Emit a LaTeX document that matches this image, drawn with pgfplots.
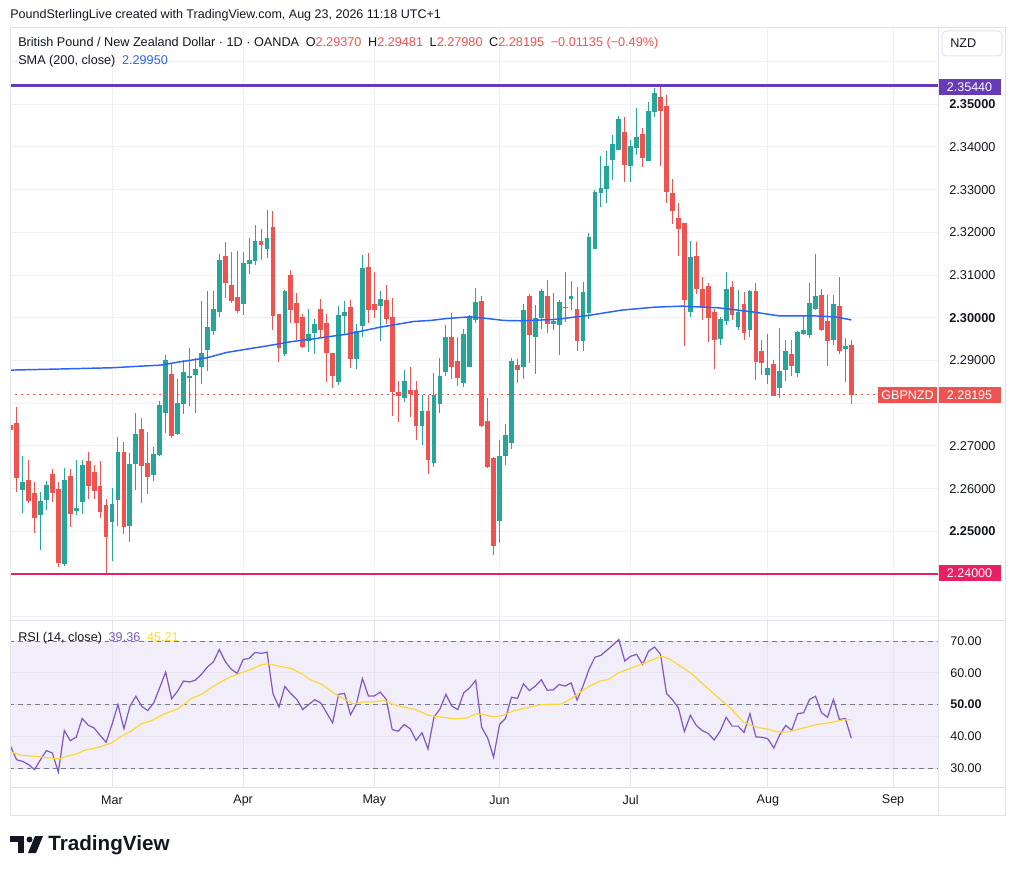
\documentclass[border=0pt]{standalone}
\usepackage{fontspec}
\setmainfont{Liberation Sans}
\usepackage{pgfplots}
\pgfplotsset{compat=1.18}
\usepackage{pgfplotstable}
\definecolor{upc}{HTML}{26A69A}
\definecolor{dnc}{HTML}{EF5350}
\definecolor{smac}{HTML}{2962FF}
\definecolor{rsic}{HTML}{7E57C2}
\definecolor{rsima}{HTML}{FDD835}
\definecolor{gridc}{HTML}{F0F1F5}
\definecolor{rsigrid}{HTML}{E6E2EF}
\definecolor{framec}{HTML}{E0E3EB}
\definecolor{txt}{HTML}{131722}
\definecolor{purp}{HTML}{673AB7}
\definecolor{pinkc}{HTML}{E91E63}
\definecolor{rsibg}{HTML}{F2EEF9}
\definecolor{lvl}{HTML}{787B86}
\newcommand{\fz}[1]{\fontsize{#1pt}{#1pt}\selectfont}

% rising candles (close >= open)
\pgfplotstableread{
x O H L C
-15 2.25977 2.26766 2.25438 2.26156
-12 2.25391 2.25922 2.24570 2.25703
-11 2.25742 2.26180 2.25508 2.26086
-8 2.24242 2.26484 2.24195 2.26203
-6 2.25484 2.26672 2.25391 2.25555
-5 2.25695 2.26672 2.25414 2.26555
0 2.25227 2.26016 2.24313 2.25641
1 2.25742 2.27211 2.25133 2.26859
3 2.25133 2.26836 2.24758 2.26578
4 2.26586 2.27773 2.25977 2.27281
7 2.26328 2.26977 2.26188 2.26813
8 2.26789 2.28063 2.26770 2.27961
9 2.27773 2.29125 2.27313 2.29000
11 2.27281 2.28578 2.27250 2.28000
12 2.27984 2.29000 2.27758 2.28727
13 2.28594 2.29289 2.27938 2.28633
14 2.28664 2.29055 2.27773 2.28797
15 2.28852 2.30398 2.28453 2.29172
16 2.29250 2.30633 2.28758 2.29781
17 2.29695 2.30633 2.29602 2.30203
18 2.30141 2.31500 2.30008 2.31352
22 2.30328 2.31539 2.30070 2.31281
23 2.31258 2.31867 2.31023 2.31352
24 2.31328 2.32172 2.31234 2.31797
26 2.31609 2.32523 2.31398 2.31867
29 2.29156 2.30648 2.29109 2.30625
33 2.29461 2.30203 2.29203 2.29617
34 2.29641 2.29969 2.29156 2.29852
38 2.28500 2.30273 2.28430 2.30063
39 2.30047 2.30391 2.29594 2.30133
41 2.29039 2.29852 2.28805 2.29688
42 2.29813 2.31469 2.29555 2.31164
45 2.30281 2.30625 2.29461 2.30438
49 2.28125 2.28773 2.28031 2.28516
52 2.27469 2.28188 2.27016 2.27813
54 2.26602 2.28703 2.26508 2.28188
55 2.27984 2.29055 2.27773 2.28633
56 2.28734 2.29828 2.28641 2.29547
59 2.28477 2.29734 2.28383 2.29617
60 2.28852 2.30063 2.28840 2.30016
61 2.29953 2.30695 2.29883 2.30367
65 2.25242 2.27133 2.24727 2.26758
66 2.26766 2.27508 2.26555 2.27250
67 2.27070 2.29055 2.26930 2.28984
69 2.28852 2.30320 2.28570 2.30180
71 2.29555 2.30297 2.28688 2.29992
72 2.30000 2.30672 2.29734 2.30625
74 2.29859 2.30578 2.29719 2.29930
75 2.29836 2.30414 2.29125 2.30367
76 2.30227 2.31070 2.29891 2.30250
77 2.30445 2.30859 2.30172 2.30508
79 2.29461 2.30836 2.29227 2.30602
80 2.30117 2.31977 2.29977 2.31883
81 2.31617 2.32992 2.31600 2.32945
82 2.32930 2.33781 2.32602 2.33039
83 2.33023 2.33906 2.32695 2.33555
84 2.33703 2.34281 2.33234 2.34070
85 2.33930 2.34727 2.33920 2.34656
87 2.33563 2.34164 2.33188 2.34023
88 2.33977 2.34914 2.33820 2.34234
90 2.33680 2.35055 2.33670 2.34844
91 2.34820 2.35383 2.34711 2.35266
97 2.30141 2.31805 2.30023 2.31422
102 2.29508 2.30023 2.29367 2.29977
103 2.29930 2.31070 2.29836 2.30672
105 2.29789 2.30648 2.29719 2.30141
107 2.29719 2.30648 2.29555 2.30625
110 2.28664 2.29625 2.28453 2.28828
112 2.28359 2.29766 2.28125 2.28758
113 2.28781 2.29484 2.28523 2.29227
115 2.28711 2.29695 2.28617 2.29672
116 2.29625 2.30047 2.29600 2.29719
117 2.29602 2.30813 2.29531 2.30352
118 2.30211 2.31492 2.30188 2.30516
121 2.29484 2.30531 2.29367 2.30320
123 2.29273 2.29531 2.28500 2.29344
}\upc

% falling candles (close < open)
\pgfplotstableread{
x O H L C
-17 2.27492 2.28031 2.26000 2.27383
-16 2.27539 2.27922 2.25930 2.26258
-14 2.26203 2.26672 2.25672 2.25719
-13 2.25898 2.26156 2.24969 2.25320
-10 2.26344 2.26461 2.25695 2.25906
-9 2.25992 2.26156 2.24172 2.24266
-7 2.26297 2.26461 2.25109 2.25414
-4 2.26648 2.26859 2.25766 2.26070
-3 2.26391 2.26555 2.25766 2.25953
-2 2.26063 2.26648 2.25320 2.25461
-1 2.25617 2.25750 2.24016 2.24875
2 2.26859 2.27094 2.24945 2.25109
5 2.27398 2.27656 2.25672 2.26539
6 2.26602 2.27328 2.25883 2.26281
10 2.28695 2.28953 2.27188 2.27234
19 2.31445 2.31773 2.30461 2.30820
20 2.30766 2.31539 2.30350 2.30398
21 2.30484 2.31563 2.30117 2.30164
25 2.31797 2.32078 2.31352 2.31703
27 2.32125 2.32500 2.29719 2.30047
28 2.30086 2.30090 2.28969 2.29297
30 2.31000 2.31117 2.29867 2.30180
31 2.30344 2.30586 2.29477 2.29883
32 2.30016 2.30086 2.29300 2.29320
35 2.30203 2.30438 2.29531 2.29719
36 2.29875 2.30086 2.28500 2.29180
37 2.29172 2.29180 2.28359 2.28641
40 2.30250 2.30414 2.28828 2.29039
43 2.31188 2.31516 2.29883 2.30188
44 2.30320 2.31070 2.30000 2.30188
46 2.30414 2.30766 2.29859 2.29977
47 2.30016 2.30461 2.27703 2.28266
48 2.28258 2.28516 2.27563 2.28172
50 2.28305 2.28852 2.27680 2.28219
51 2.28305 2.28516 2.27133 2.27469
53 2.27813 2.28188 2.26352 2.26664
57 2.29547 2.30109 2.28570 2.28852
58 2.28984 2.29547 2.28406 2.28594
62 2.30391 2.30508 2.27450 2.27469
63 2.27594 2.28125 2.26490 2.26508
64 2.26719 2.26742 2.24438 2.24656
68 2.28891 2.29031 2.28477 2.28781
70 2.30508 2.30555 2.28945 2.29594
73 2.30508 2.30880 2.29648 2.29859
78 2.30203 2.30719 2.29227 2.29461
86 2.34352 2.34703 2.33188 2.33586
89 2.34305 2.34445 2.33539 2.33750
92 2.35172 2.35440 2.33555 2.34844
93 2.34961 2.35219 2.32695 2.32953
94 2.32922 2.33250 2.32203 2.32508
95 2.32336 2.32688 2.31453 2.32086
96 2.32219 2.32230 2.29344 2.30422
98 2.31445 2.31773 2.30555 2.30672
99 2.30672 2.30953 2.29953 2.30234
100 2.30742 2.30813 2.29438 2.30000
101 2.30141 2.30211 2.28805 2.29484
104 2.30719 2.30859 2.29953 2.30070
106 2.30320 2.30602 2.29484 2.29648
108 2.30625 2.30813 2.28547 2.28969
109 2.29219 2.29484 2.28664 2.28945
111 2.28922 2.29016 2.28160 2.28172
114 2.29156 2.29484 2.28641 2.28875
119 2.30531 2.30672 2.29700 2.29719
120 2.29930 2.30531 2.28875 2.29461
122 2.30273 2.30953 2.29156 2.29227
124 2.29370 2.29481 2.27980 2.28195
}\dnc

\pgfplotstableread{
x y
-17.1 2.28775
-9 2.28800
0 2.28830
4.7 2.28867
8.1 2.28891
11.4 2.28969
15.9 2.29063
19.2 2.29188
22.6 2.29266
27.1 2.29367
29.9 2.29438
33.8 2.29508
39.4 2.29617
45 2.29781
50.6 2.29914
53.4 2.29938
56.2 2.29984
60.1 2.30023
62.9 2.29984
65.7 2.29938
68.5 2.29930
74.3 2.29961
79.9 2.30055
85.5 2.30180
91.1 2.30250
95.6 2.30273
101.7 2.30234
107.3 2.30141
111.8 2.30047
117.4 2.30047
121.3 2.30023
124 2.29950
}\sma

\pgfplotstableread{
x y
-17 36.8
-16 32.6
-15 32.1
-14 31.1
-13 29.5
-12 32.6
-11 35.5
-10 34.7
-9 28.7
-8 41.8
-7 38.6
-6 39.7
-5 45.6
-4 43.5
-3 42.6
-2 40.3
-1 38.1
0 43.7
1 50.0
2 42.4
3 49.4
4 52.6
5 49.4
6 48.1
7 50.5
8 55.3
9 60.2
10 51.8
11 54.2
12 57.4
13 57.1
14 57.7
15 59.5
16 61.8
17 63.4
18 67.3
19 63.5
20 61.1
21 59.8
22 64.2
23 64.5
24 66.4
25 66.1
26 66.5
27 53.4
28 49.2
29 55.7
30 53.4
31 51.6
32 48.4
33 50.0
34 51.5
35 50.5
36 47.4
37 44.2
38 53.2
39 53.5
40 46.8
41 50.2
42 58.2
43 52.7
44 52.7
45 53.9
46 51.6
47 42.1
48 41.6
49 43.7
50 42.4
51 38.7
52 41.1
53 36.0
54 46.0
55 48.6
56 53.2
57 49.5
58 48.4
59 53.7
60 55.3
61 57.6
62 42.8
63 39.5
64 33.4
65 43.7
66 45.6
67 52.3
68 51.9
69 56.5
70 54.4
71 55.8
72 57.8
73 54.5
74 54.6
75 56.3
76 55.8
77 56.8
78 51.4
79 55.8
80 61.1
81 64.9
82 65.5
83 67.1
84 68.7
85 70.5
86 63.7
87 65.2
88 65.8
89 62.6
90 66.8
91 68.1
92 65.8
93 53.5
94 51.5
95 48.9
96 41.5
97 46.6
98 43.4
99 41.8
100 40.9
101 38.8
102 41.6
103 46.0
104 43.2
105 43.2
106 41.2
107 47.1
108 39.8
109 39.7
110 39.2
111 36.3
112 40.5
113 43.4
114 41.9
115 47.1
116 47.4
117 51.6
118 52.6
119 47.4
120 46.0
121 51.6
122 45.3
123 45.6
124 39.36
}\rsi

\pgfplotstableread{
x y
-17 35.1
-15.2 34.0
-13 33.7
-10.7 33.2
-8.8 32.9
-7.4 33.8
-6 34.4
-4.6 35.6
-2.3 36.5
-0.1 37.9
1.6 40.0
3.2 41.6
4.9 43.9
6.6 44.9
8.8 47.1
11.1 48.7
13.3 51.9
15 53.2
17.2 56.0
19.5 58.4
21.7 60.0
23.4 61.1
25.1 62.6
26.2 62.8
27.9 62.1
30.1 61.3
31.8 59.7
33.2 57.9
35.2 56.3
37.1 53.7
38.8 51.8
40.5 50.2
42.2 50.8
43.9 50.8
45.5 51.3
47.2 50.0
48.9 49.2
50.9 48.4
53.1 46.6
55.0 46.1
57.3 45.5
59.5 45.8
61.2 47.1
62.6 46.7
64.0 46.1
65.6 46.6
67.3 48.0
69.6 49.0
71.8 49.9
74.1 50.1
75.2 50.1
76.9 51.7
78.5 53.8
80.2 55.9
81.9 57.4
83.3 57.9
85.0 60.0
86.9 61.4
89.1 62.9
90.8 64.2
92.2 65.2
93.6 64.2
95.3 62.1
97.0 60.0
99.2 56.3
101.4 52.6
103.7 48.9
105.9 44.5
108.2 42.8
109.8 42.3
111.5 41.4
113.2 41.3
114.9 42.1
116.6 42.9
118.2 43.7
120.5 44.3
122.7 45.2
124 45.21
}\rsima

\begin{document}
\begin{tikzpicture}
\path[use as bounding box] (0,0) rectangle (762pt,656.25pt);
\fill[white] (0,0) rectangle (762pt,656.25pt);
\begin{scope}[x=0.75pt,y=0.75pt]
\fill[rsibg] (10,875-641) rectangle (938,875-768);
\end{scope}

% ---------------- main price pane ----------------
\begin{axis}[
  at={(7.5pt,191.25pt)}, anchor=south west, scale only axis,
  width=696pt, height=444pt,
  xmin=-17.108, xmax=138.54, ymin=2.229227, ymax=2.367869,
  axis line style={draw=none}, major tick length=0pt,
  xtick={0,22,44,65,87,110,131}, xticklabels={},
  ytick={2.23,2.24,2.25,2.26,2.27,2.28,2.29,2.30,2.31,2.32,2.33,2.34,2.35,2.36},
  yticklabels={{},{},\textbf{2.25000},2.26000,2.27000,{},2.29000,\textbf{2.30000},2.31000,2.32000,2.33000,2.34000,\textbf{2.35000},{}},
  yticklabel pos=right,
  yticklabel style={anchor=west, inner sep=0pt, xshift=8.25pt, font=\fz{9.6}, text=txt},
  grid=major, major grid style={gridc, line width=0.75pt},
]
% wicks
\addplot[forget plot, mark=none, upc, line width=0.75pt,
  quiver={u=0, v=\thisrow{H}-\thisrow{L}}] table[x=x, y=L] {\upc};
\addplot[forget plot, mark=none, dnc, line width=0.75pt,
  quiver={u=0, v=\thisrow{H}-\thisrow{L}}] table[x=x, y=L] {\dnc};
% bodies
\addplot[forget plot, mark=none, upc, line width=3.6pt,
  quiver={u=0, v={max(\thisrow{C}-\thisrow{O},0.00008)}}] table[x=x, y=O] {\upc};
\addplot[forget plot, mark=none, dnc, line width=3.6pt,
  quiver={u=0, v={max(\thisrow{O}-\thisrow{C},0.00008)}}] table[x=x, y=C] {\dnc};
\addplot[smac, line width=1.1pt, mark=none] table[x=x, y=y] {\sma};
\addplot[dnc, line width=0.9pt, dash pattern=on 1.2pt off 3.3pt, mark=none] coordinates {(-17.2,2.28195) (138.6,2.28195)};
\addplot[purp, line width=2.2pt, mark=none] coordinates {(-17.2,2.35440) (138.6,2.35440)};
\addplot[pinkc, line width=2.2pt, mark=none] coordinates {(-17.2,2.24000) (138.6,2.24000)};
\end{axis}

% ---------------- RSI pane ----------------
\begin{axis}[
  at={(7.5pt,66pt)}, anchor=south west, scale only axis,
  width=696pt, height=124.5pt,
  xmin=-17.108, xmax=138.54, ymin=24.02, ymax=76.30,
  axis line style={draw=none}, major tick length=0pt,
  xtick={0,22,44,65,87,110,131}, xticklabels={Mar,Apr,May,Jun,Jul,Aug,Sep},
  xticklabel style={anchor=center, inner sep=0pt, yshift=-9.75pt, font=\fz{9.4}, text=txt},
  ytick={30,40,50,60,70}, yticklabels={30.00,40.00,\textbf{50.00},60.00,70.00},
  yticklabel pos=right,
  yticklabel style={anchor=west, inner sep=0pt, xshift=9pt, font=\fz{9.4}, text=txt},
  grid=major, major grid style={rsigrid, line width=0.75pt},
]
\addplot[lvl, line width=0.75pt, dash pattern=on 3.5pt off 3pt, mark=none] coordinates {(-17.2,70) (138.6,70)};
\addplot[lvl, line width=0.75pt, dash pattern=on 3.5pt off 3pt, mark=none] coordinates {(-17.2,50) (138.6,50)};
\addplot[lvl, line width=0.75pt, dash pattern=on 3.5pt off 3pt, mark=none] coordinates {(-17.2,30) (138.6,30)};
\addplot[rsic, line width=0.9pt, mark=none] table[x=x, y=y] {\rsi};
\addplot[rsima, line width=0.9pt, mark=none] table[x=x, y=y] {\rsima};
\end{axis}

% ---------------- frame, labels, tags ----------------
\begin{scope}[x=0.75pt,y=0.75pt]
\draw[framec, line width=0.75pt] (10,875-28) rectangle (1005,875-815);
\draw[framec, line width=0.75pt] (938,875-28) -- (938,875-815);
\draw[framec, line width=0.75pt] (10,875-620) -- (1005,875-620);
\draw[framec, line width=0.75pt] (10,875-787) -- (1005,875-787);

\node[anchor=west, inner sep=0pt, font=\fz{9.4}, text=txt] at (10,875-15) {PoundSterlingLive created with TradingView.com, Aug 23, 2026 11:18 UTC+1};
\node[anchor=west, inner sep=0pt, font=\fz{9.5}, text=txt] at (18,875-43) {British Pound / New Zealand Dollar · 1D · OANDA\hspace{5pt}O\textcolor{dnc}{2.29370}\hspace{5pt}H\textcolor{dnc}{2.29481}\hspace{5pt}L\textcolor{dnc}{2.27980}\hspace{5pt}C\textcolor{dnc}{2.28195}\hspace{5pt}\textcolor{dnc}{−0.01135 (−0.49\%)}};
\node[anchor=west, inner sep=0pt, font=\fz{9.5}, text=txt] at (18,875-61) {SMA (200, close)\hspace{5pt}\textcolor{smac}{2.29950}};
\node[anchor=west, inner sep=0pt, font=\fz{9.5}, text=txt] at (18,875-638) {RSI (14, close)\hspace{5pt}\textcolor{rsic}{39.36}\hspace{5pt}\textcolor{rsima}{45.21}};

\draw[framec, line width=0.75pt, rounded corners=3pt, fill=white] (942,875-31) rectangle (1002,875-56);
\node[anchor=west, inner sep=0pt, font=\fz{9.5}, text=txt] at (950,875-43.5) {NZD};

\node[fill=purp, text=white, font=\fz{9.4}, minimum width=46.5pt, minimum height=12pt, inner sep=0pt] at (969.5,875-87) {2.35440};
\node[fill=pinkc, text=white, font=\fz{9.4}, minimum width=46.5pt, minimum height=12pt, inner sep=0pt] at (969.5,875-573) {2.24000};
\node[fill=dnc, text=white, font=\fz{9.4}, minimum width=46.5pt, minimum height=12pt, inner sep=0pt] at (969.5,875-395) {2.28195};
\node[fill=dnc, text=white, font=\fz{9.4}, minimum width=44pt, minimum height=12pt, inner sep=0pt] at (907.5,875-395) {GBPNZD};

% TradingView logo
\fill[txt] (10,875-836) rectangle (24,875-842);
\fill[txt] (18,875-836) rectangle (24,875-853);
\fill[txt] (29.5,875-839.5) circle (3);
\fill[txt] (35,875-836) -- (43,875-836) -- (36,875-853) -- (28,875-853) -- cycle;
\node[anchor=west, inner sep=0pt, font=\bfseries\fz{15.5}, text=txt] at (48,875-845) {TradingView};
\end{scope}
\end{tikzpicture}
\end{document}
